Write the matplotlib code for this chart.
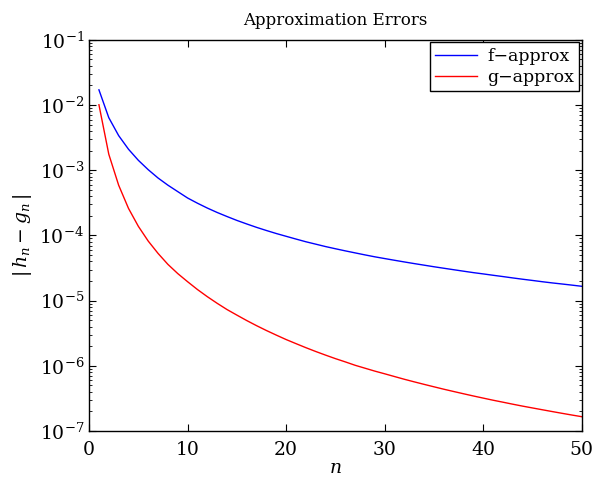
import matplotlib
matplotlib.use("Agg")
import matplotlib.pyplot as plt
import numpy as np

# values (n = 1..50)
n = list(range(1, 51))

f_err = [1.71e-2, 6.4e-3, 3.4e-3, 2.1e-3, 1.42e-3, 1.02e-3, 7.6e-4, 5.9e-4, 4.7e-4, 3.75e-4,
         3.12e-4, 2.63e-4, 2.25e-4, 1.95e-4, 1.70e-4, 1.50e-4, 1.33e-4, 1.19e-4, 1.07e-4, 9.7e-5,
         8.8e-5, 8.0e-5, 7.35e-5, 6.75e-5, 6.25e-5, 5.8e-5, 5.4e-5, 5.03e-5, 4.7e-5, 4.42e-5,
         4.16e-5, 3.92e-5, 3.7e-5, 3.5e-5, 3.31e-5, 3.14e-5, 2.98e-5, 2.83e-5, 2.69e-5, 2.57e-5,
         2.45e-5, 2.34e-5, 2.23e-5, 2.13e-5, 2.04e-5, 1.95e-5, 1.87e-5, 1.80e-5, 1.73e-5, 1.66e-5]

g_err = [1.01e-2, 1.76e-3, 5.9e-4, 2.6e-4, 1.38e-4, 8.2e-5, 5.3e-5, 3.6e-5, 2.6e-5, 1.95e-5,
         1.48e-5, 1.15e-5, 9.1e-6, 7.3e-6, 6.0e-6, 4.95e-6, 4.13e-6, 3.48e-6, 2.96e-6, 2.53e-6,
         2.19e-6, 1.90e-6, 1.66e-6, 1.46e-6, 1.29e-6, 1.15e-6, 1.02e-6, 9.2e-7, 8.3e-7, 7.55e-7,
         6.85e-7, 6.22e-7, 5.68e-7, 5.2e-7, 4.77e-7, 4.38e-7, 4.04e-7, 3.73e-7, 3.45e-7, 3.2e-7,
         2.97e-7, 2.77e-7, 2.58e-7, 2.41e-7, 2.26e-7, 2.12e-7, 1.99e-7, 1.87e-7, 1.76e-7, 1.66e-7]

labels = ["f\u2212approx", "g\u2212approx"]

plt.rcParams['font.family'] = ['DejaVu Serif']
plt.rcParams['mathtext.fontset'] = 'dejavuserif'

fig = plt.figure(figsize=(6.06, 4.80), dpi=100)
ax = fig.add_axes([0.147, 0.102, 0.813, 0.815])

ax.semilogy(n, f_err, color='#0000ff', lw=1.0, label=labels[0])
ax.semilogy(n, g_err, color='#ff0000', lw=1.0, label=labels[1])

ax.set_xlim(0, 50)
ax.set_ylim(1e-7, 1e-1)
ax.set_xticks([0, 10, 20, 30, 40, 50])

ax.tick_params(which='both', direction='in', top=True, right=True, labelsize=13.5)
ax.tick_params(which='major', length=5, width=0.8)
ax.tick_params(which='minor', length=2.5, width=0.6)
ax.tick_params(axis='x', which='major', pad=7)
ax.tick_params(axis='x', which='minor', bottom=False, top=False)
for s in ax.spines.values():
    s.set_linewidth(1.0)

ax.set_title("Approximation Errors", fontsize=12, pad=11)
ax.set_xlabel(r"$n$", fontsize=13.5, labelpad=0)
ax.set_ylabel(r"$|\,h_n - g_n\,|$", fontsize=13.5)

leg = ax.legend(loc='upper right', fontsize=12.5, fancybox=False, framealpha=1,
                edgecolor='black', borderaxespad=0.15, handlelength=2.4,
                borderpad=0.3, labelspacing=0.25, handletextpad=0.6)
leg.get_frame().set_linewidth(1.0)

plt.savefig("out.png", dpi=100)
